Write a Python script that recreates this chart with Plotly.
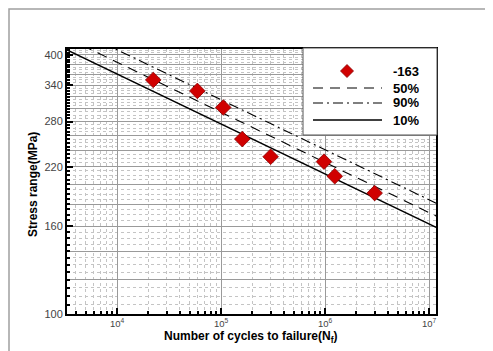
import plotly.graph_objects as go
import math

# ---- data ----
cycles = [22300, 59200, 105000, 160000, 300000, 977000, 1240000, 3000000]
stress = [350, 330, 302, 255, 232, 226, 209, 191]

line_N = [3300, 11700000]
s10 = [411, 159]
s50 = [438, 169]
s90 = [468, 181]

y_tick_vals = list(range(100, 401, 20))
y_tick_labels = [str(v) if v in (100, 160, 220, 280, 340, 400) else "" for v in y_tick_vals]
x_tick_vals = [1e4, 1e5, 1e6, 1e7]
x_tick_labels = ["10<sup>4</sup>", "10<sup>5</sup>", "10<sup>6</sup>", "10<sup>7</sup>"]
legend_labels = ["-163", "50%", "90%", "10%"]

OFF = 8  # page body margin
W, H = 493 - OFF, 351 - OFF
# plot frame in page pixels
PL, PR, PT, PB = 67, 436, 49, 314
L, R, T, B = PL - OFF, PR - OFF, PT - OFF, PB - OFF


def px(x):
    return (x - PL) / (PR - PL)


def py(y):
    return (PB - y) / (PB - PT)


fig = go.Figure()
fig.add_trace(go.Scatter(x=line_N, y=s90, mode="lines",
                         line=dict(color="black", width=1.1, dash="10px,4px,2px,4px")))
fig.add_trace(go.Scatter(x=line_N, y=s50, mode="lines",
                         line=dict(color="black", width=1.1, dash="10px,7px")))
fig.add_trace(go.Scatter(x=line_N, y=s10, mode="lines",
                         line=dict(color="black", width=1.3)))
fig.add_trace(go.Scatter(x=cycles, y=stress, mode="markers",
                         marker=dict(symbol="diamond", size=12, color="#d00000",
                                     line=dict(color="#8a0000", width=0.8))))

x_minor = [k * 10 ** d for d in range(3, 8) for k in range(2, 10)]
y_minor = list(range(100, 420, 5))

fig.update_xaxes(type="log", range=[3.519, 7.067],
                 tickvals=x_tick_vals, ticktext=x_tick_labels,
                 ticks="inside", ticklen=6, tickwidth=2, tickcolor="black",
                 showline=True, linewidth=2, linecolor="black", mirror=True,
                 showgrid=True, gridcolor="#9a9a9a", gridwidth=1,
                 minor=dict(tickvals=x_minor, ticks="inside", ticklen=3, tickcolor="black",
                            showgrid=True, gridcolor="#c4c4c4", griddash="dot", gridwidth=1),
                 tickfont=dict(family="Liberation Sans, Arial", size=9.5, color="#444"),
                 zeroline=False)
fig.update_yaxes(type="log", range=[2, math.log10(413)],
                 tickvals=y_tick_vals, ticktext=y_tick_labels,
                 ticks="inside", ticklen=6, tickwidth=2, tickcolor="black",
                 showline=True, linewidth=2, linecolor="black", mirror=True,
                 showgrid=True, gridcolor="#9a9a9a", gridwidth=1,
                 minor=dict(tickvals=y_minor, ticks="inside", ticklen=3, tickcolor="black",
                            showgrid=True, gridcolor="#c4c4c4", griddash="dot", gridwidth=1),
                 tickfont=dict(family="Liberation Sans, Arial", size=11, color="#444"),
                 zeroline=False)

shapes = []
# outer light frame (left/top edges visible)
shapes.append(dict(type="rect", xref="paper", yref="paper", x0=px(OFF + 1), x1=px(560),
                   y0=py(420), y1=py(OFF + 1), line=dict(color="#a0a0a0", width=1.5),
                   fillcolor="rgba(0,0,0,0)", layer="below"))
# legend box
shapes.append(dict(type="rect", xref="paper", yref="paper", x0=px(303), x1=px(437),
                   y0=py(135), y1=py(48), line=dict(color="#555", width=1),
                   fillcolor="white", layer="above"))
# legend line samples
for yy, dash, w in [(88, "10px,7px", 1.1), (103, "10px,4px,2px,4px", 1.1), (120, "solid", 1.3)]:
    shapes.append(dict(type="line", xref="paper", yref="paper", x0=px(313), x1=px(382),
                       y0=py(yy), y1=py(yy), line=dict(color="black", width=w, dash=dash),
                       layer="above"))
# legend diamond
cx, cy, hs = 347, 71, 6.5
shapes.append(dict(type="path", xref="paper", yref="paper",
                   path=f"M {px(cx)},{py(cy - hs)} L {px(cx + hs)},{py(cy)} L {px(cx)},{py(cy + hs)} L {px(cx - hs)},{py(cy)} Z",
                   fillcolor="#d00000", line=dict(color="#8a0000", width=0.8), layer="above"))

annotations = []
for lab, yy in zip(legend_labels, [71, 88, 103, 120]):
    annotations.append(dict(xref="paper", yref="paper", x=px(391), y=py(yy), text=f"<b>{lab}</b>",
                            showarrow=False, xanchor="left", yanchor="middle",
                            font=dict(family="Liberation Sans, Arial", size=13, color="black")))
annotations.append(dict(xref="paper", yref="paper", x=px(251), y=py(337),
                        text="<b>Number of cycles to failure(N<sub>f</sub>)</b>",
                        showarrow=False, xanchor="center", yanchor="middle",
                        font=dict(family="Liberation Sans, Arial", size=12, color="black")))
annotations.append(dict(xref="paper", yref="paper", x=px(33), y=py(185),
                        text="<b>Stress range(MPa)</b>", textangle=-90,
                        showarrow=False, xanchor="center", yanchor="middle",
                        font=dict(family="Liberation Sans, Arial", size=12, color="black")))

fig.update_layout(width=W, height=H, margin=dict(l=L, r=W - R, t=T, b=H - B),
                  paper_bgcolor="white", plot_bgcolor="white", showlegend=False,
                  shapes=shapes, annotations=annotations)

fig.write_html("out.html")
